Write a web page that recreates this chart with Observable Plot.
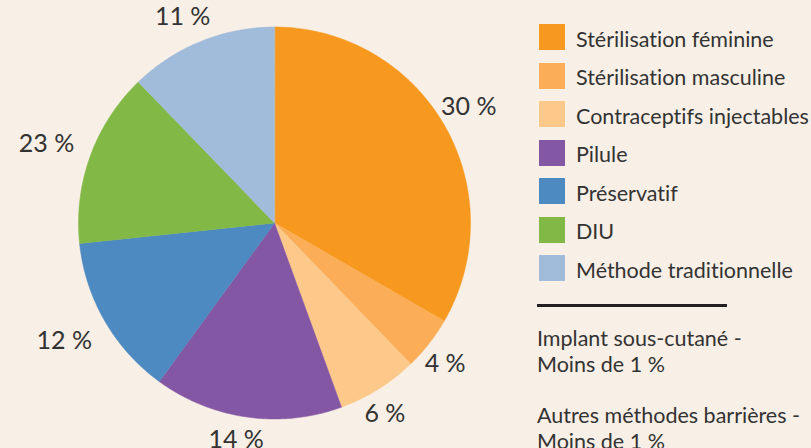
<!DOCTYPE html>
<html><head><meta charset="utf-8">
<script src="https://cdn.jsdelivr.net/npm/d3@7"></script>
<script src="https://cdn.jsdelivr.net/npm/@observablehq/plot@0.6"></script>
<style>
html,body{margin:0;padding:0;background:#f8efe6;}
#wrap{position:relative;width:811px;height:448px;overflow:hidden;font-family:Lato,sans-serif;color:#333;font-variant-ligatures:none;}
#chart{position:absolute;left:0;top:0;}
#legend{position:absolute;left:539px;top:24px;width:272px;}
.row{position:absolute;left:0;height:26px;white-space:nowrap;}
.sw{position:absolute;left:0;top:0;width:26px;height:26px;}
.lab{position:absolute;left:37px;top:1.7px;font-size:21.5px;line-height:26px;}
.rule{position:absolute;left:-2px;top:280px;width:190px;height:3px;background:#231f20;}
.note{position:absolute;left:-2px;font-size:21.5px;line-height:26px;white-space:nowrap;}
</style></head>
<body><div id="wrap"><div id="chart"></div><div id="legend"></div></div>
<script>
const categories = ["Stérilisation féminine","Stérilisation masculine","Contraceptifs injectables","Pilule","Préservatif","DIU","Méthode traditionnelle"];
const values = [30, 4, 6, 14, 12, 13, 11];
const labels = ["30 %","4 %","6 %","14 %","12 %","23 %","11 %"];
const colors = ["#f7991e","#fbae57","#fdc98b","#8457a5","#4c8ac1","#82b846","#a1bbdb"];
const notes = [["Implant sous-cutané -","Moins de 1 %"],["Autres méthodes barrières -","Moins de 1 %"]];

const R = 196, CX = 274, CY = 222.5;
const data = categories.map((name, i) => ({name, value: values[i], label: labels[i], color: colors[i]}));
const arcs = d3.pie().sort(null).value(d => d.value)(data);

const features = arcs.map(a => {
  const ring = [[0, 0]];
  const n = Math.max(4, Math.ceil((a.endAngle - a.startAngle) / 0.01));
  for (let k = 0; k <= n; k++) {
    const t = a.startAngle + (a.endAngle - a.startAngle) * k / n;
    ring.push([Math.sin(t), -Math.cos(t)]);
  }
  ring.push([0, 0]);
  return {type: "Feature", properties: {name: a.data.name}, geometry: {type: "Polygon", coordinates: [ring]}};
});

const ctx = document.createElement("canvas").getContext("2d");
ctx.font = "25px Lato";
const labelPts = arcs.map(a => {
  const t = (a.startAngle + a.endAngle) / 2;
  const w = ctx.measureText(a.data.label).width, h = 18;
  const d = 205 + w / 2 * Math.abs(Math.sin(t)) + h / 2 * Math.abs(Math.cos(t));
  return {label: a.data.label, x: Math.sin(t) * d / R, y: -Math.cos(t) * d / R};
});

const plot = Plot.plot({
  width: 811, height: 448, margin: 0,
  style: {background: "transparent", fontFamily: "Lato", overflow: "visible"},
  projection: () => d3.geoIdentity().scale(R).translate([CX, CY]),
  color: {domain: categories, range: colors},
  marks: [
    Plot.geo(features, {fill: d => d.properties.name, stroke: d => d.properties.name, strokeWidth: 0.5}),
    Plot.text(labelPts, {x: "x", y: "y", text: "label", fontSize: 25, fill: "#333", lineAnchor: "middle", dx: -8, dy: 1})
  ]
});
document.getElementById("chart").appendChild(plot);

const leg = document.getElementById("legend");
categories.forEach((c, i) => {
  const row = document.createElement("div");
  row.className = "row";
  row.style.top = (i * 38.5) + "px";
  row.innerHTML = `<div class="sw" style="background:${colors[i]}"></div><div class="lab"></div>`;
  row.querySelector(".lab").textContent = c;
  leg.appendChild(row);
});
const rule = document.createElement("div");
rule.className = "rule"; leg.appendChild(rule);
notes.forEach((lines, j) => {
  const nd = document.createElement("div");
  nd.className = "note";
  nd.style.top = (301 + j * 77) + "px";
  nd.innerHTML = lines.join("<br>");
  leg.appendChild(nd);
});
</script></body></html>
